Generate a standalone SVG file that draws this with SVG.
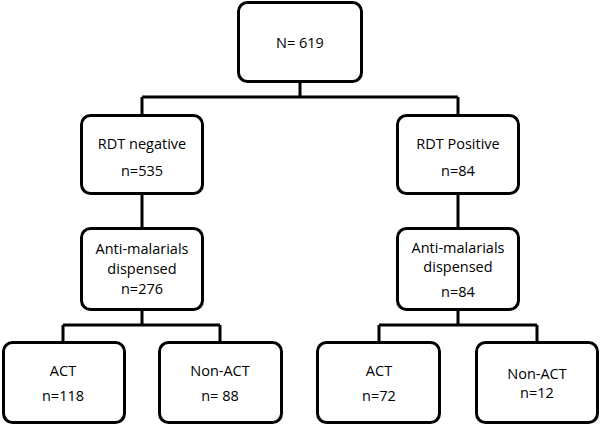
<svg xmlns="http://www.w3.org/2000/svg" width="600" height="425" viewBox="0 0 600 425">
<style>
.box{fill:#fff;stroke:#000;stroke-width:3;}
.ln{fill:none;stroke:#000;stroke-width:3;}
text{font-family:"Open Sans","Liberation Sans",sans-serif;font-size:14.5px;fill:#000;text-anchor:middle;dominant-baseline:central;}
</style>
<rect width="600" height="425" fill="#fff"/>
<g id="connectors">
<path class="ln" d="M300,82 V97 M142,97 H458 M142,97 V115 M458,97 V115"/>
<path class="ln" d="M142,194 V228 M458,194 V228"/>
<path class="ln" d="M142,310 V325 M63,325 H220 M63,325 V342 M220,325 V342"/>
<path class="ln" d="M458,310 V325 M379,325 H537 M379,325 V342 M537,325 V342"/>
</g>
<g id="n619"><rect class="box" x="238.5" y="2.5" width="123" height="79" rx="9"/><text x="300" y="42">N= 619</text></g>
<g id="rdtneg"><rect class="box" x="81.5" y="115.5" width="121" height="78" rx="9"/><text x="142" y="143">RDT negative</text><text x="142" y="170">n=535</text></g>
<g id="rdtpos"><rect class="box" x="397.5" y="115.5" width="121" height="78" rx="9"/><text x="458" y="143">RDT Positive</text><text x="458" y="170">n=84</text></g>
<g id="amneg"><rect class="box" x="81.5" y="228.5" width="121" height="81" rx="9"/><text x="142" y="248">Anti-malarials</text><text x="142" y="268">dispensed</text><text x="142" y="288">n=276</text></g>
<g id="ampos"><rect class="box" x="397.5" y="228.5" width="121" height="81" rx="9"/><text x="458" y="247">Anti-malarials</text><text x="458" y="266">dispensed</text><text x="458" y="291">n=84</text></g>
<g id="actneg"><rect class="box" x="3.5" y="342.5" width="121" height="80" rx="9"/><text x="63" y="370">ACT</text><text x="63" y="395">n=118</text></g>
<g id="nonactneg"><rect class="box" x="159.5" y="342.5" width="122" height="80" rx="9"/><text x="220" y="370">Non-ACT</text><text x="220" y="395">n= 88</text></g>
<g id="actpos"><rect class="box" x="317.5" y="342.5" width="122" height="80" rx="9"/><text x="379" y="370">ACT</text><text x="379" y="395">n=72</text></g>
<g id="nonactpos"><rect class="box" x="476.5" y="342.5" width="121" height="80" rx="9"/><text x="537" y="373">Non-ACT</text><text x="537" y="392">n=12</text></g>
</svg>
